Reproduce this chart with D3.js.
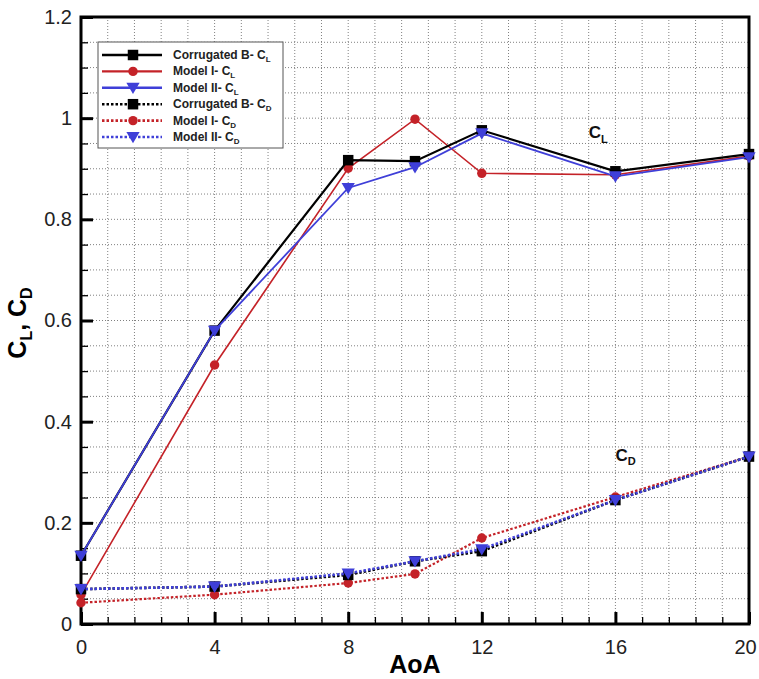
<!DOCTYPE html>
<html>
<head>
<meta charset="utf-8">
<script src="https://cdn.jsdelivr.net/npm/d3@7"></script>
<style>
    body { margin: 0; background: #fff; }
    svg { display: block; font-family: "Liberation Sans", Arial, sans-serif; }
</style>
</head>
<body>
<div class="chart"></div>
<script>
const aoa = [0, 4, 8, 10, 12, 16, 20]
const clCorrugated = [0.135, 0.58, 0.917, 0.915, 0.976, 0.895, 0.929]
const clModel1 = [0.058, 0.512, 0.901, 0.998, 0.891, 0.888, 0.925]
const clModel2 = [0.135, 0.58, 0.862, 0.903, 0.970, 0.885, 0.923]
const cdCorrugated = [0.069, 0.074, 0.097, 0.124, 0.144, 0.245, 0.331]
const cdModel1 = [0.042, 0.058, 0.081, 0.099, 0.17, 0.251, 0.331]
const cdModel2 = [0.069, 0.074, 0.1, 0.124, 0.148, 0.245, 0.331]
const xTicks = [0, 4, 8, 12, 16, 20]
const yTicks = [0, 0.2, 0.4, 0.6, 0.8, 1, 1.2]

const width = 759
const height = 679
const margin = { left: 81, right: 10, top: 17, bottom: 55 }

const red = '#c42228'
const blue = '#3f3fd8'

const series = [
    { name: 'Corrugated B- ', sub: 'L', values: clCorrugated, color: '#000', dash: null, width: 2.2, symbol: d3.symbolSquare, size: 110 },
    { name: 'Model I- ', sub: 'L', values: clModel1, color: red, dash: null, width: 1.6, symbol: d3.symbolCircle, size: 70 },
    { name: 'Model II- ', sub: 'L', values: clModel2, color: blue, dash: null, width: 1.8, symbol: 'tri', size: 90 },
    { name: 'Corrugated B- ', sub: 'D', values: cdCorrugated, color: '#000', dash: '2.5,2', width: 2.6, symbol: d3.symbolSquare, size: 110 },
    { name: 'Model I- ', sub: 'D', values: cdModel1, color: red, dash: '2.5,2', width: 2.2, symbol: d3.symbolCircle, size: 70 },
    { name: 'Model II- ', sub: 'D', values: cdModel2, color: blue, dash: '2.5,2', width: 2.6, symbol: 'tri', size: 90 }
]

const svg = d3.select('.chart').append('svg')
    .attr('width', width)
    .attr('height', height)

const x = d3.scaleLinear().domain([0, 20]).range([margin.left, width - margin.right])
const y = d3.scaleLinear().domain([0, 1.2]).range([height - margin.bottom, margin.top])

// grid (dotted), x every 0.8, y every 0.05
const xGrid = d3.range(1, 25).map(i => i * 0.8).filter(v => v < 20)
const yGrid = d3.range(1, 24).map(i => i * 0.05)

const grid = svg.append('g').attr('class', 'grid')
grid.selectAll('.gx').data(xGrid).enter().append('line')
    .attr('x1', d => x(d)).attr('x2', d => x(d))
    .attr('y1', y(0)).attr('y2', y(1.2))
    .attr('stroke', '#808080').attr('stroke-width', 1).attr('stroke-dasharray', '1,2')
grid.selectAll('.gy').data(yGrid).enter().append('line')
    .attr('x1', x(0)).attr('x2', x(20))
    .attr('y1', d => y(d)).attr('y2', d => y(d))
    .attr('stroke', '#808080').attr('stroke-width', 1).attr('stroke-dasharray', '1,2')

// axes with inward ticks
const xAxis = svg.append('g').attr('transform', `translate(0,${y(0)})`)
    .call(d3.axisBottom(x).tickValues(xTicks).tickSize(-12).tickPadding(16).tickFormat(d3.format('d')))
xAxis.select('.domain').remove()
xAxis.selectAll('.tick line').attr('stroke', '#000').attr('stroke-width', 3)
xAxis.selectAll('.tick text').attr('font-size', 20).attr('fill', '#222')
    .attr('dx', d => d === 20 ? -4 : 0)

const xMinor = svg.append('g').attr('transform', `translate(0,${y(0)})`)
    .call(d3.axisBottom(x).tickValues(xGrid).tickSize(-7).tickFormat(''))
xMinor.select('.domain').remove()
xMinor.selectAll('.tick line').attr('stroke', '#000').attr('stroke-width', 1.3)

const yAxis = svg.append('g').attr('transform', `translate(${x(0)},0)`)
    .call(d3.axisLeft(y).tickValues(yTicks).tickSize(-12).tickPadding(9).tickFormat(d => String(+d.toFixed(1))))
yAxis.select('.domain').remove()
yAxis.selectAll('.tick line').attr('stroke', '#000').attr('stroke-width', 3)
yAxis.selectAll('.tick text').attr('font-size', 20).attr('fill', '#222')

const yMinor = svg.append('g').attr('transform', `translate(${x(0)},0)`)
    .call(d3.axisLeft(y).tickValues(yGrid).tickSize(-7).tickFormat(''))
yMinor.select('.domain').remove()
yMinor.selectAll('.tick line').attr('stroke', '#000').attr('stroke-width', 1.3)

// frame
svg.append('rect')
    .attr('x', x(0)).attr('y', y(1.2))
    .attr('width', x(20) - x(0)).attr('height', y(0) - y(1.2))
    .attr('fill', 'none').attr('stroke', '#000').attr('stroke-width', 3)

// symbols
const triDown = {
    draw(ctx, size) {
        const s = Math.sqrt(size) * 0.7
        ctx.moveTo(-s, -s * 0.75)
        ctx.lineTo(s, -s * 0.75)
        ctx.lineTo(0, s * 0.95)
        ctx.closePath()
    }
}
const symbolOf = s => d3.symbol().type(s.symbol === 'tri' ? triDown : s.symbol).size(s.size)

const line = d3.line().x(d => x(d[0])).y(d => y(d[1]))

// draw order: red below, black, then blue on top
const order = [1, 4, 0, 3, 2, 5]
order.forEach(i => {
    const s = series[i]
    const pts = aoa.map((a, k) => [a, s.values[k]])
    svg.append('path')
        .datum(pts)
        .attr('d', line)
        .attr('fill', 'none')
        .attr('stroke', s.color)
        .attr('stroke-width', s.width)
        .attr('stroke-dasharray', s.dash)
    svg.append('g').selectAll('path').data(pts).enter().append('path')
        .attr('d', symbolOf(s))
        .attr('transform', d => `translate(${x(d[0])},${y(d[1])})`)
        .attr('fill', s.color)
})

// legend
const lg = svg.append('g').attr('transform', 'translate(98,42)')
lg.append('rect')
    .attr('width', 185).attr('height', 106)
    .attr('fill', '#fff').attr('stroke', '#555').attr('stroke-width', 1)
series.forEach((s, i) => {
    const row = lg.append('g').attr('transform', `translate(0,${13 + i * 16.4})`)
    row.append('line')
        .attr('x1', 4).attr('x2', 64)
        .attr('stroke', s.color)
        .attr('stroke-width', s.dash ? 2.6 : 2.4)
        .attr('stroke-dasharray', s.dash)
    row.append('path')
        .attr('d', symbolOf(s))
        .attr('transform', 'translate(35,0)')
        .attr('fill', s.color)
    const t = row.append('text')
        .attr('x', 75).attr('y', 4)
        .attr('font-size', 12).attr('font-weight', 'bold').attr('fill', '#222')
    t.append('tspan').text(s.name + 'C')
    t.append('tspan').attr('font-size', 8).attr('dy', 3).text(s.sub)
})

// annotations
const label = (px, py, sub, size) => {
    const t = svg.append('text').attr('x', px).attr('y', py)
        .attr('font-size', size).attr('font-weight', 'bold').attr('fill', '#111')
    t.append('tspan').text('C')
    t.append('tspan').attr('font-size', size * 0.65).attr('dy', size * 0.25).text(sub)
}
label(x(15.2), y(0.96), 'L', 17)
label(x(16.0), y(0.322), 'D', 17)

// axis titles
svg.append('text')
    .attr('x', (x(0) + x(20)) / 2).attr('y', 673)
    .attr('text-anchor', 'middle')
    .attr('font-size', 25).attr('font-weight', 'bold')
    .text('AoA')

const yt = svg.append('text')
    .attr('transform', 'translate(26,323) rotate(-90)')
    .attr('text-anchor', 'middle')
    .attr('font-size', 25).attr('font-weight', 'bold')
yt.append('tspan').text('C')
yt.append('tspan').attr('font-size', 16).attr('dy', 6).text('L')
yt.append('tspan').attr('dy', -6).text(', C')
yt.append('tspan').attr('font-size', 16).attr('dy', 6).text('D')
</script>
</body>
</html>
